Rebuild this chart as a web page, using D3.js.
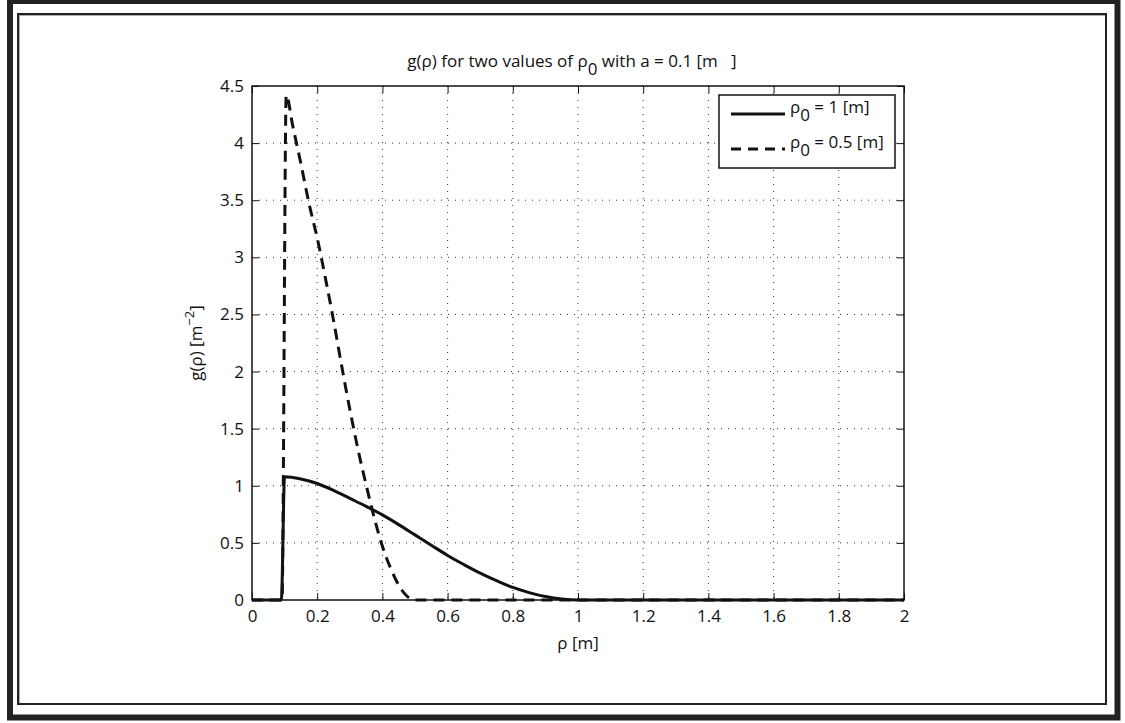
<!DOCTYPE html>
<html>
<head>
<meta charset="utf-8">
<script src="https://cdn.jsdelivr.net/npm/d3@7"></script>
<style>
  html, body { margin: 0; padding: 0; background: #fff; }
  svg { display: block; }
  text { font-family: "Open Sans", "Noto Sans", sans-serif; fill: #111; }
</style>
</head>
<body>
<svg id="chart" width="1125" height="723"></svg>
<script>
// ---- data ----
const rhoSolid = [0, 0.09, 0.1, 0.15, 0.2, 0.25, 0.3, 0.35, 0.4, 0.45, 0.5, 0.55, 0.6, 0.65, 0.7, 0.75, 0.8, 0.85, 0.9, 0.95, 1.0, 1.5, 2.0];
const gSolid   = [0, 0,    1.08, 1.06, 1.02, 0.96, 0.89, 0.82, 0.745, 0.66, 0.57, 0.48, 0.39, 0.31, 0.235, 0.17, 0.11, 0.065, 0.03, 0.008, 0, 0, 0];
const rhoDashed = [0, 0.092, 0.105, 0.125, 0.15, 0.175, 0.2, 0.225, 0.25, 0.275, 0.3, 0.325, 0.35, 0.375, 0.4, 0.425, 0.45, 0.475, 0.5, 1.0, 2.0];
const gDashed   = [0, 0,     4.42,  4.15,  3.82, 3.47,  3.17, 2.82,  2.45, 2.05,  1.67, 1.32,  1.01, 0.72,  0.47, 0.28,  0.13, 0.035, 0, 0, 0];
const xTicks = [0, 0.2, 0.4, 0.6, 0.8, 1, 1.2, 1.4, 1.6, 1.8, 2];
const yTicks = [0, 0.5, 1, 1.5, 2, 2.5, 3, 3.5, 4, 4.5];
const legendLabels = ["1", "0.5"];

const FS = "17px";
const svg = d3.select("#chart");

// frames
svg.append("rect").attr("x", 10).attr("y", 1).attr("width", 1107.5).attr("height", 716.5)
  .attr("fill", "none").attr("stroke", "#222").attr("stroke-width", 6);
svg.append("rect").attr("x", 19.5).attr("y", 15.5).attr("width", 1087).attr("height", 689)
  .attr("fill", "none").attr("stroke", "#aaa").attr("stroke-width", 1);
svg.append("rect").attr("x", 18).attr("y", 14).attr("width", 1088).attr("height", 690)
  .attr("fill", "none").attr("stroke", "#222").attr("stroke-width", 2);

const L = 252, R = 904, T = 86, B = 600;
const x = d3.scaleLinear().domain([0, 2]).range([L, R]);
const y = d3.scaleLinear().domain([0, 4.5]).range([B, T]);

// grid
const grid = svg.append("g");
grid.selectAll("line.vx").data(xTicks.slice(1, -1)).join("line")
  .attr("x1", d => x(d)).attr("x2", d => x(d)).attr("y1", T).attr("y2", B)
  .attr("stroke", "#333").attr("stroke-width", 1).attr("stroke-dasharray", "1,6");
grid.selectAll("line.hy").data(yTicks.slice(1, -1)).join("line")
  .attr("x1", L).attr("x2", R).attr("y1", d => y(d)).attr("y2", d => y(d))
  .attr("stroke", "#333").attr("stroke-width", 1).attr("stroke-dasharray", "1,6");

// axes (inner ticks on all sides)
const tk = 7;
const fmt = d => String(d);
svg.append("g").attr("transform", `translate(0,${B})`)
  .call(d3.axisBottom(x).tickValues(xTicks).tickFormat(fmt).tickSizeInner(-tk).tickSizeOuter(0).tickPadding(10))
  .call(g => g.select(".domain").remove());
svg.append("g").attr("transform", `translate(0,${T})`)
  .call(d3.axisTop(x).tickValues(xTicks).tickFormat("").tickSizeInner(-tk).tickSizeOuter(0))
  .call(g => g.select(".domain").remove());
svg.append("g").attr("transform", `translate(${L},0)`)
  .call(d3.axisLeft(y).tickValues(yTicks).tickFormat(fmt).tickSizeInner(-tk).tickSizeOuter(0).tickPadding(8))
  .call(g => g.select(".domain").remove());
svg.append("g").attr("transform", `translate(${R},0)`)
  .call(d3.axisRight(y).tickValues(yTicks).tickFormat("").tickSizeInner(-tk).tickSizeOuter(0))
  .call(g => g.select(".domain").remove());
svg.selectAll(".tick line").attr("stroke", "#111").attr("stroke-width", 1);
svg.selectAll(".tick text").style("font-family", '"Open Sans", sans-serif').style("font-size", FS).attr("fill", "#111");

// box
svg.append("rect").attr("x", L).attr("y", T).attr("width", R - L).attr("height", B - T)
  .attr("fill", "none").attr("stroke", "#111").attr("stroke-width", 1.5);

// curves
const line = d3.line().x(d => x(d[0])).y(d => y(d[1])).curve(d3.curveMonotoneX);
svg.append("path").datum(d3.zip(rhoSolid, gSolid)).attr("d", line)
  .attr("fill", "none").attr("stroke", "#111").attr("stroke-width", 3).attr("stroke-linejoin", "round");
svg.append("path").datum(d3.zip(rhoDashed, gDashed)).attr("d", line)
  .attr("fill", "none").attr("stroke", "#111").attr("stroke-width", 3).attr("stroke-dasharray", "11,7");

// legend
const lg = svg.append("g");
lg.append("rect").attr("x", 719).attr("y", 95).attr("width", 176).attr("height", 73)
  .attr("fill", "#fff").attr("stroke", "#111").attr("stroke-width", 1.5);
const ly = [114, 149];
const dashes = [null, "10,7"];
legendLabels.forEach((lab, i) => {
  lg.append("line").attr("x1", 731).attr("x2", 785).attr("y1", ly[i]).attr("y2", ly[i])
    .attr("stroke", "#111").attr("stroke-width", 3).attr("stroke-dasharray", dashes[i]);
  const t = lg.append("text").attr("x", 790).attr("y", ly[i] - 1).style("font-size", FS);
  t.append("tspan").text("ρ");
  t.append("tspan").attr("dy", 8).text("0");
  t.append("tspan").attr("dy", -8).text(` = ${lab} [m]`);
});

// title
const title = svg.append("text").attr("x", 572).attr("y", 67).attr("text-anchor", "middle")
  .style("font-size", FS).attr("xml:space", "preserve");
title.append("tspan").text("g(ρ) for two values of ρ");
title.append("tspan").attr("dy", 8).text("0");
title.append("tspan").attr("dy", -8).text(" with a = 0.1 [m\u00a0\u00a0 ]");

// axis labels
svg.append("text").attr("x", 578).attr("y", 649).attr("text-anchor", "middle")
  .style("font-size", FS).text("ρ [m]");
const yl = svg.append("text").attr("transform", `translate(202,${(T + B) / 2}) rotate(-90)`)
  .attr("text-anchor", "middle").style("font-size", FS);
yl.append("tspan").text("g(ρ) [m");
yl.append("tspan").attr("dy", -8).style("font-size", "13px").text("−2");
yl.append("tspan").attr("dy", 8).text("]");
</script>
</body>
</html>
